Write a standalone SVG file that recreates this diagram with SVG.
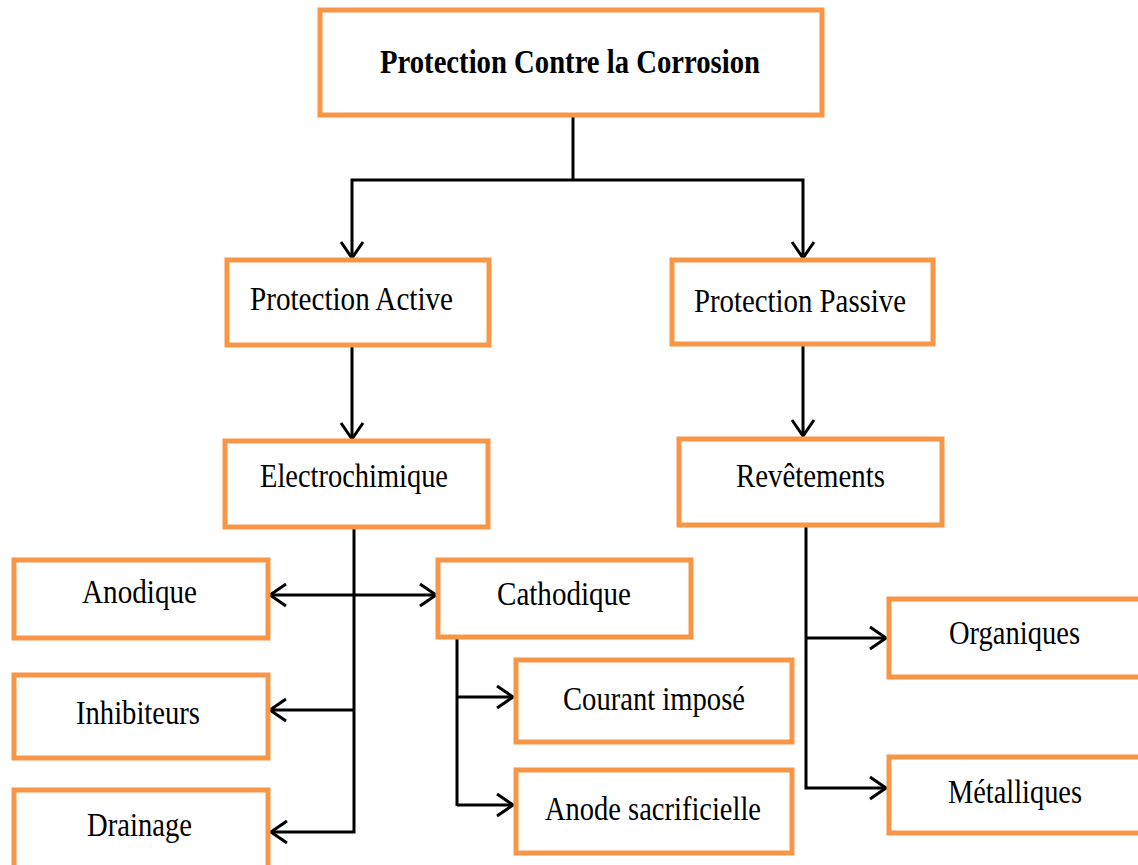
<svg xmlns="http://www.w3.org/2000/svg" width="1138" height="865" viewBox="0 0 1138 865">
<style>
.box{fill:#fff;stroke:#F79646;stroke-width:5}
.t{font-family:"Liberation Serif","Times New Roman",serif;font-size:33px;fill:#000;text-anchor:start}
.b{font-weight:bold}
.c{fill:none;stroke:#000;stroke-width:3}
</style>
<defs>
<marker id="ah" viewBox="0 0 20 26" refX="18" refY="13" markerWidth="20" markerHeight="26" markerUnits="userSpaceOnUse" orient="auto-start-reverse">
<path d="M2,2 L18,13 L2,24" fill="none" stroke="#000" stroke-width="3"/>
</marker>
</defs>
<rect width="1138" height="865" fill="#fff"/>
<g id="connectors">
<path class="c" d="M573,116 V180"/>
<path class="c" d="M352,258 V180 H803 V258" marker-start="url(#ah)" marker-end="url(#ah)"/>
<path class="c" d="M352,345 V439" marker-end="url(#ah)"/>
<path class="c" d="M803,345 V436" marker-end="url(#ah)"/>
<path class="c" d="M354,528 V832 H271" marker-end="url(#ah)"/>
<path class="c" d="M354,710 H270" marker-end="url(#ah)"/>
<path class="c" d="M270,595 H436" marker-start="url(#ah)" marker-end="url(#ah)"/>
<path class="c" d="M457,638 V806"/>
<path class="c" d="M457,697 H513" marker-end="url(#ah)"/>
<path class="c" d="M457,805 H513" marker-end="url(#ah)"/>
<path class="c" d="M806,525 V788 H886" marker-end="url(#ah)"/>
<path class="c" d="M806,638 H886" marker-end="url(#ah)"/>
</g>
<g id="n-root"><rect class="box" x="320" y="10" width="502" height="105"/><text class="t b" x="380" y="73" textLength="380" lengthAdjust="spacingAndGlyphs">Protection Contre la Corrosion</text></g>
<g id="n-active"><rect class="box" x="227" y="260" width="262" height="85"/><text class="t" x="250" y="310" textLength="203" lengthAdjust="spacingAndGlyphs">Protection Active</text></g>
<g id="n-passive"><rect class="box" x="672" y="260" width="261" height="84"/><text class="t" x="694" y="312" textLength="212" lengthAdjust="spacingAndGlyphs">Protection Passive</text></g>
<g id="n-electro"><rect class="box" x="225" y="441" width="263" height="86"/><text class="t" x="260" y="487" textLength="188" lengthAdjust="spacingAndGlyphs">Electrochimique</text></g>
<g id="n-revet"><rect class="box" x="679" y="439" width="263" height="86"/><text class="t" x="736" y="487" textLength="149" lengthAdjust="spacingAndGlyphs">Revêtements</text></g>
<g id="n-anodique"><rect class="box" x="14" y="560" width="254" height="78"/><text class="t" x="82" y="603" textLength="115" lengthAdjust="spacingAndGlyphs">Anodique</text></g>
<g id="n-inhib"><rect class="box" x="14" y="675" width="254" height="83"/><text class="t" x="76" y="724" textLength="124" lengthAdjust="spacingAndGlyphs">Inhibiteurs</text></g>
<g id="n-drain"><rect class="box" x="14" y="790" width="254" height="90"/><text class="t" x="87" y="836" textLength="105" lengthAdjust="spacingAndGlyphs">Drainage</text></g>
<g id="n-cathod"><rect class="box" x="438" y="560" width="253" height="77"/><text class="t" x="497" y="605" textLength="134" lengthAdjust="spacingAndGlyphs">Cathodique</text></g>
<g id="n-courant"><rect class="box" x="516" y="660" width="276" height="82"/><text class="t" x="563" y="710" textLength="182" lengthAdjust="spacingAndGlyphs">Courant imposé</text></g>
<g id="n-anode"><rect class="box" x="516" y="770" width="276" height="83"/><text class="t" x="545" y="820" textLength="216" lengthAdjust="spacingAndGlyphs">Anode sacrificielle</text></g>
<g id="n-organ"><rect class="box" x="889" y="599" width="260" height="78"/><text class="t" x="949" y="644" textLength="131" lengthAdjust="spacingAndGlyphs">Organiques</text></g>
<g id="n-metal"><rect class="box" x="889" y="757" width="260" height="76"/><text class="t" x="948" y="803" textLength="134" lengthAdjust="spacingAndGlyphs">Métalliques</text></g>
</svg>
